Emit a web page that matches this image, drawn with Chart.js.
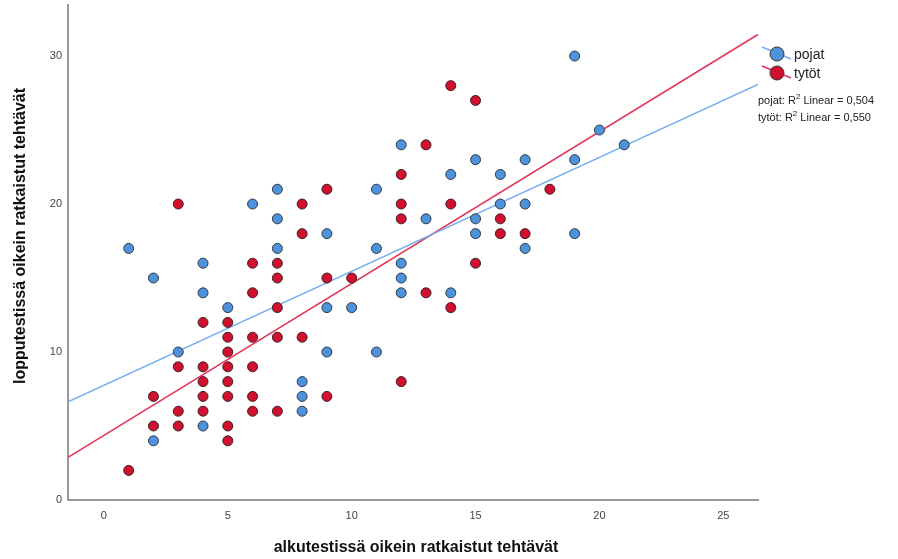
<!DOCTYPE html>
<html>
<head>
<meta charset="utf-8">
<script src="https://cdn.jsdelivr.net/npm/chart.js@4.4.1/dist/chart.umd.min.js"></script>
<style>
    html, body { margin: 0; padding: 0; background: #ffffff; }
    #wrap { width: 898px; height: 559px; }
</style>
</head>
<body>
<div id="wrap"><canvas id="scatterChart" width="898" height="559"></canvas></div>
<script>
// Points: [alkutesti, lopputesti]
var pojatPoints = [
    [1, 17], [2, 15], [2, 4], [3, 10], [4, 16], [4, 14], [4, 5], [5, 13],
    [6, 20], [7, 21], [7, 19], [7, 17], [8, 8], [8, 7], [8, 6], [9, 18],
    [9, 13], [9, 10], [10, 13], [11, 21], [11, 17], [11, 10], [12, 24], [12, 16],
    [12, 15], [12, 14], [13, 19], [14, 22], [14, 14], [15, 23], [15, 19], [15, 18],
    [16, 22], [16, 20], [17, 23], [17, 20], [17, 17], [19, 30], [19, 23], [19, 18],
    [20, 25], [21, 24]
];
var tytotPoints = [
    [1, 2], [2, 7], [2, 5], [3, 20], [3, 9], [3, 6], [3, 5], [4, 12],
    [4, 9], [4, 8], [4, 7], [4, 6], [5, 12], [5, 11], [5, 10], [5, 9],
    [5, 8], [5, 7], [5, 5], [5, 4], [6, 16], [6, 14], [6, 11], [6, 9],
    [6, 7], [6, 6], [7, 16], [7, 15], [7, 13], [7, 11], [7, 6], [8, 20],
    [8, 18], [8, 11], [9, 21], [9, 15], [9, 7], [10, 15], [12, 22], [12, 20],
    [12, 19], [12, 8], [13, 24], [13, 14], [14, 28], [14, 20], [14, 13], [15, 27],
    [15, 16], [16, 19], [16, 18], [17, 18], [18, 21]
];

// Fit lines (intercept, slope)
var pojatFit = [7.75, 0.77];
var tytotFit = [4.37, 1.026];
var r2Labels = ["pojat: R\u00b2 Linear = 0,504", "tytöt: R\u00b2 Linear = 0,550"];

var seriesNames = ["pojat", "tytöt"];
var xTickValues = [0, 5, 10, 15, 20, 25];
var yTickValues = [0, 10, 20, 30];
var xRange = [-1.45, 26.4];
var yRange = [0, 33.45];

var xTitle = "alkutestissä oikein ratkaistut tehtävät";
var yTitle = "lopputestissä oikein ratkaistut tehtävät";

var BLUE_FILL = "#4f92dc";
var RED_FILL = "#d0102c";
var BLUE_LINE = "#74aef0";
var RED_LINE = "#e43558";

function toXY(list) {
    return list.map(function (p) { return {x: p[0], y: p[1]}; });
}

function fitLine(fit) {
    return xRange.map(function (x) { return {x: x, y: fit[0] + fit[1] * x}; });
}

// Legend, R² notes and axis titles drawn on the canvas.
var extrasPlugin = {
    id: "extras",
    afterDraw: function (chart) {
        var ctx = chart.ctx;
        ctx.save();

        // legend entries
        var entries = [
            {name: seriesNames[0], fill: BLUE_FILL, line: BLUE_LINE, y: 54},
            {name: seriesNames[1], fill: RED_FILL, line: RED_LINE, y: 73}
        ];
        entries.forEach(function (e) {
            ctx.strokeStyle = e.line;
            ctx.lineWidth = 1.5;
            ctx.beginPath();
            ctx.moveTo(762, e.y - 7);
            ctx.lineTo(791, e.y + 5);
            ctx.stroke();
            ctx.beginPath();
            ctx.arc(777, e.y, 7, 0, Math.PI * 2);
            ctx.fillStyle = e.fill;
            ctx.fill();
            ctx.strokeStyle = "#333333";
            ctx.lineWidth = 1;
            ctx.stroke();
            ctx.fillStyle = "#222222";
            ctx.font = "14px 'Liberation Sans', Arial, sans-serif";
            ctx.textAlign = "left";
            ctx.textBaseline = "middle";
            ctx.fillText(e.name, 794, e.y + 1);
        });

        // R² notes with a raised 2
        ctx.fillStyle = "#222222";
        ctx.textBaseline = "middle";
        r2Labels.forEach(function (txt, i) {
            var y = 101 + i * 17;
            var parts = txt.split("\u00b2");
            var x = 758;
            ctx.font = "11px 'Liberation Sans', Arial, sans-serif";
            ctx.fillText(parts[0], x, y);
            x += ctx.measureText(parts[0]).width;
            ctx.font = "8px 'Liberation Sans', Arial, sans-serif";
            ctx.fillText("2", x, y - 4);
            x += ctx.measureText("2").width;
            ctx.font = "11px 'Liberation Sans', Arial, sans-serif";
            ctx.fillText(parts[1], x, y);
        });

        // axis titles
        ctx.fillStyle = "#111111";
        ctx.font = "bold 16px 'Liberation Sans', Arial, sans-serif";
        ctx.textAlign = "center";
        ctx.textBaseline = "middle";
        ctx.fillText(xTitle, 416, 548);

        ctx.translate(21, 236);
        ctx.rotate(-Math.PI / 2);
        ctx.fillText(yTitle, 0, 0);
        ctx.restore();
    }
};

var ctx = document.getElementById("scatterChart").getContext("2d");

new Chart(ctx, {
    type: "scatter",
    data: {
        datasets: [
            {
                label: seriesNames[0] + " fit",
                type: "line",
                data: fitLine(pojatFit),
                borderColor: BLUE_LINE,
                borderWidth: 1.5,
                pointRadius: 0,
                fill: false,
                order: 3
            },
            {
                label: seriesNames[1] + " fit",
                type: "line",
                data: fitLine(tytotFit),
                borderColor: RED_LINE,
                borderWidth: 1.5,
                pointRadius: 0,
                fill: false,
                order: 3
            },
            {
                label: seriesNames[0],
                data: toXY(pojatPoints),
                backgroundColor: BLUE_FILL,
                borderColor: "#2f3a48",
                borderWidth: 1,
                pointRadius: 5,
                order: 2
            },
            {
                label: seriesNames[1],
                data: toXY(tytotPoints),
                backgroundColor: RED_FILL,
                borderColor: "#3a2328",
                borderWidth: 1,
                pointRadius: 5,
                order: 1
            }
        ]
    },
    options: {
        responsive: false,
        animation: false,
        layout: {
            autoPadding: false,
            padding: {left: 0, right: 140, top: 5, bottom: 0}
        },
        scales: {
            x: {
                type: "linear",
                min: xRange[0],
                max: xRange[1],
                afterFit: function (scale) {
                    scale.height = 59;
                    scale.paddingLeft = 0;
                    scale.paddingRight = 0;
                },
                afterBuildTicks: function (scale) {
                    scale.ticks = xTickValues.map(function (v) { return {value: v}; });
                },
                grid: {display: false, drawTicks: false},
                border: {display: true, color: "#9a9a9a", width: 2},
                ticks: {
                    color: "#444444",
                    padding: 9,
                    font: {size: 11, family: "'Liberation Sans', Arial, sans-serif"}
                }
            },
            y: {
                type: "linear",
                min: yRange[0],
                max: yRange[1],
                afterFit: function (scale) {
                    scale.width = 68;
                    scale.paddingTop = 0;
                    scale.paddingBottom = 0;
                },
                afterBuildTicks: function (scale) {
                    scale.ticks = yTickValues.map(function (v) { return {value: v}; });
                },
                grid: {display: false, drawTicks: false},
                border: {display: true, color: "#9a9a9a", width: 2},
                ticks: {
                    color: "#444444",
                    padding: 6,
                    font: {size: 11, family: "'Liberation Sans', Arial, sans-serif"}
                }
            }
        },
        plugins: {
            legend: {display: false},
            tooltip: {enabled: false}
        }
    },
    plugins: [extrasPlugin]
});
</script>
</body>
</html>
